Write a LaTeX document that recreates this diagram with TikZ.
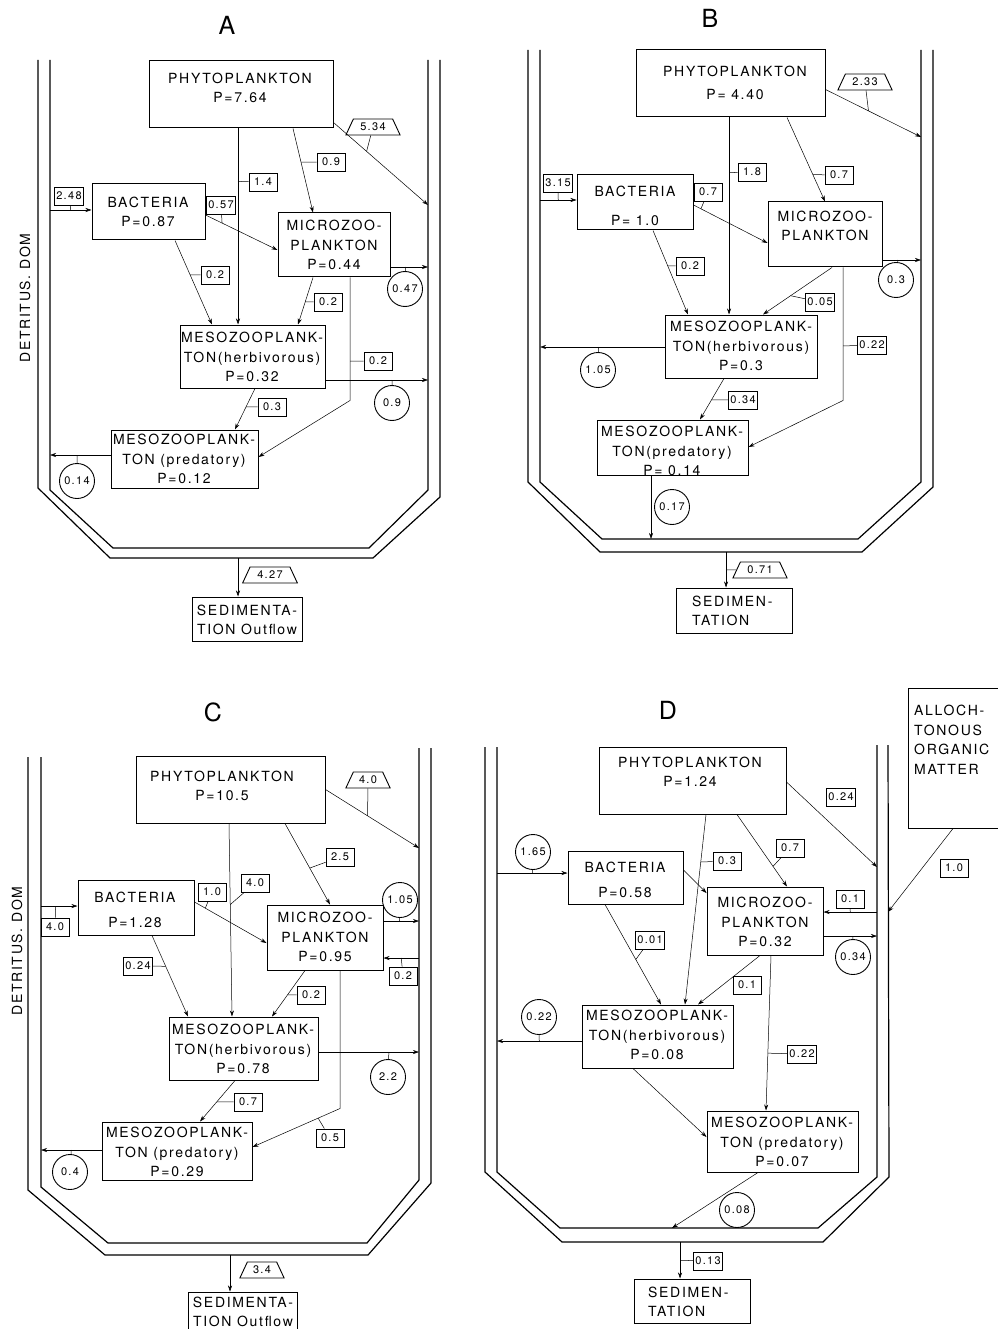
\documentclass[tikz,border=0pt]{standalone}
\usepackage{fontspec}
\setmainfont{TeX Gyre Heros}[LetterSpace=12]
\usetikzlibrary{arrows.meta,shapes.geometric,fit}

\tikzset{
  wall/.style={line width=1.2pt},
  box/.style={draw, line width=1pt, inner sep=0pt},
  txt/.style={align=center, inner sep=0pt, font=\fontsize{14}{19.5}\selectfont},
  flow/.style={line width=0.5pt, -{Stealth[length=6pt,width=4pt]}},
  tickline/.style={line width=0.5pt},
  val/.style={draw, line width=0.9pt, inner sep=2pt, minimum height=18pt, minimum width=28pt, font=\fontsize{11}{11}\selectfont},
  outv/.style={draw, trapezium, trapezium left angle=65, trapezium right angle=65, line width=0.9pt, inner sep=2pt, minimum height=16pt, font=\fontsize{11}{11}\selectfont},
  resp/.style={draw, circle, line width=0.9pt, minimum size=35pt, inner sep=0pt, font=\fontsize{11}{11}\selectfont},
  panel/.style={font=\fontsize{25}{25}\selectfont}
}

\begin{document}
\begin{tikzpicture}[x=1pt,y=-1pt]
\useasboundingbox (0,0) rectangle (997,1329);

%%%%% panel A
\node[panel] (atitle) at (227,25) {A};
\node[txt, rotate=90] (adet) at (25,298) {DETRITUS. DOM};
%walls
\draw[wall] (38,60) -- (38,488) -- (110,558) -- (373,558) -- (440,497) -- (440,60);
\draw[wall] (50,60) -- (50,490) -- (113,548) -- (369,548) -- (428,490) -- (428,60);
\coordinate (aL) at (50,0);
\coordinate (aR) at (428,0);
\coordinate (aB) at (238,558);
%boxes
\node[box, fit={(149,61) (333,128)}] (aphy) {};
\node[txt] (aphyt) at (240,88) {PHYTOPLANKTON\\P=7.64};
\node[box, fit={(92,184) (205,240)}] (abac) {};
\node[txt] (abact) at (148,212) {BACTERIA\\P=0.87};
\node[box, fit={(278,213) (390,277)}] (amic) {};
\node[txt] (amict) at (334,245) {MICROZOO-\\PLANKTON\\P=0.44};
\node[box, fit={(180,325) (325,388)}] (amh) {};
\node[txt] (amht) at (252,357) {MESOZOOPLANK-\\TON(herbivorous)\\P=0.32};
\node[box, fit={(111,430) (258,488)}] (amp) {};
\node[txt] (ampt) at (184,459) {MESOZOOPLANK-\\TON (predatory)\\P=0.12};
\node[box, fit={(192,597) (302,641)}] (ased) {};
\node[txt] (asedt) at (247,620) {SEDIMENTA-\\TION Outflow};
%flows
\draw[flow] (aphy.south -| 238,0) -- (amh.north -| 238,0) coordinate[pos=0.27] (a1);
\node[val] (av1) at (263,182) {1.4};
\draw[tickline] (av1) -- (a1);
\draw[flow] (aphy.south -| 293,0) -- (amic.north -| 313,0) coordinate[pos=0.4] (a2);
\node[val] (av2) at (331,162) {0.9};
\draw[tickline] (av2) -- (a2);
\draw[flow] ([yshift=6pt]aphy.south east) -- (aR |- 0,205) coordinate[pos=0.35] (a3);
\node[outv] (av3) at (373,127) {5.34};
\draw[tickline] (av3) -- (a3);
\draw[flow] (aL |- 0,210) -- (abac.west |- 0,210) coordinate[pos=0.5] (a4);
\node[val] (av4) at (69,196) {2.48};
\draw[tickline] (av4) -- (a4);
\draw[flow] (abac.east |- 0,215) -- (amic.west |- 0,250) coordinate[pos=0.23] (a5);
\node[val] (av5) at (221,205) {0.57};
\draw[tickline] (av5) -- (a5);
\draw[flow] (abac.south -| 175,0) -- (amh.north -| 212,0) coordinate[pos=0.41] (a6);
\node[val] (av6) at (215,275) {0.2};
\draw[tickline] (av6) -- (a6);
\draw[flow] (amic.south -| 313,0) -- (amh.north -| 298,0) coordinate[pos=0.52] (a7);
\node[val] (av7) at (328,302) {0.2};
\draw[tickline] (av7) -- (a7);
\draw[flow] (amic.east |- 0,267) -- (aR |- 0,267) coordinate[pos=0.4] (a8);
\node[resp] (av8) at (405,289) {0.47};
\draw[tickline] (av8) -- (a8);
\draw[flow] (amic.south -| 350,0) -- ++(0,123) coordinate[pos=0.68] (a9) -- (amp.east |- 0,457);
\node[val] (av9) at (378,361) {0.2};
\draw[tickline] (av9) -- (a9);
\draw[flow] (amh.east |- 0,380) -- (aR |- 0,380) coordinate[pos=0.65] (a10);
\node[resp] (av10) at (392,403) {0.9};
\draw[tickline] (av10) -- (a10);
\draw[flow] (amh.south -| 255,0) -- (amp.north -| 235,0) coordinate[pos=0.45] (a11);
\node[val] (av11) at (272,407) {0.3};
\draw[tickline] (av11) -- (a11);
\draw[flow] (amp.west |- 0,455) -- (aL |- 0,455) coordinate[pos=0.55] (a12);
\node[resp] (av12) at (77,481) {0.14};
\draw[tickline] (av12) -- (a12);
\draw[flow] (aB) -- (ased.north -| aB);
\node[outv] (av13) at (270,575) {4.27};

%%%%% panel B
\node[panel] (btitle) at (710,18) {B};
%walls
\draw[wall] (528,50) -- (528,482) -- (600,552) -- (862,552) -- (933,487) -- (933,50);
\draw[wall] (540,50) -- (540,482) -- (602,539) -- (858,539) -- (921,482) -- (921,50);
\coordinate (bL) at (540,0);
\coordinate (bR) at (921,0);
\coordinate (bBi) at (651,539);
\coordinate (bBo) at (726,552);
%boxes
\node[box, fit={(636,50) (825,117)}] (bphy) {};
\node[txt] (bphyt) at (735,83) {PHYTOPLANKTON\\[4pt]P= 4.40};
\node[box, fit={(577,175) (693,230)}] (bbac) {};
\node[txt] (bbact) at (635,206) {BACTERIA\\[10pt]P= 1.0};
\node[box, fit={(768,202) (882,267)}] (bmic) {};
\node[txt] (bmict) at (825,226) {MICROZOO-\\PLANKTON};
\node[box, fit={(665,315) (817,378)}] (bmh) {};
\node[txt] (bmht) at (741,346) {MESOZOOPLANK-\\TON(herbivorous)\\P=0.3};
\node[box, fit={(597,420) (748,475)}] (bmp) {};
\node[txt] (bmpt) at (672,451) {MESOZOOPLANK-\\TON(predatory)\\P= 0.14};
\node[box, fit={(676,588) (792,633)}] (bsed) {};
\node[txt, align=left, anchor=west] (bsedt) at (692,611) {SEDIMEN-\\TATION};
%flows
\draw[flow] (bphy.south -| 729,0) -- (bmh.north -| 729,0) coordinate[pos=0.28] (b1);
\node[val] (bv1) at (752,172) {1.8};
\draw[tickline] (bv1) -- (b1);
\draw[flow] (bphy.south -| 787,0) -- (bmic.north -| 825,0) coordinate[pos=0.68] (b2);
\node[val] (bv2) at (839,175) {0.7};
\draw[tickline] (bv2) -- (b2);
\draw[flow] ([yshift=-6pt]bphy.east) -- (bR |- 0,137) coordinate[pos=0.45] (b3);
\node[outv] (bv3) at (865,82) {2.33};
\draw[tickline] (bv3) -- (b3);
\draw[flow] (bL |- 0,200) -- (bbac.west |- 0,200) coordinate[pos=0.5] (b4);
\node[val] (bv4) at (558,183) {3.15};
\draw[tickline] (bv4) -- (b4);
\draw[flow] (bbac.east |- 0,205) -- (bmic.west |- 0,243) coordinate[pos=0.1] (b5);
\node[val] (bv5) at (708,192) {0.7};
\draw[tickline] (bv5) -- (b5);
\draw[flow] (bbac.south -| 653,0) -- (bmh.north -| 688,0) coordinate[pos=0.42] (b6);
\node[val] (bv6) at (690,266) {0.2};
\draw[tickline] (bv6) -- (b6);
\draw[flow] (bmic.south -| 832,0) -- (bmh.north -| 763,0) coordinate[pos=0.6] (b7);
\node[val] (bv7) at (820,302) {0.05};
\draw[tickline] (bv7) -- (b7);
\draw[flow] (bmic.east |- 0,260) -- (bR |- 0,260) coordinate[pos=0.4] (b8);
\node[resp] (bv8) at (896,280) {0.3};
\draw[tickline] (bv8) -- (b8);
\draw[flow] (bmic.south -| 843,0) -- ++(0,133) coordinate[pos=0.59] (b9) -- (bmp.east |- 0,447);
\node[val] (bv9) at (872,345) {0.22};
\draw[tickline] (bv9) -- (b9);
\draw[flow] (bmh.west |- 0,347) -- (bL |- 0,347) coordinate[pos=0.53] (b10);
\node[resp] (bv10) at (598,370) {1.05};
\draw[tickline] (bv10) -- (b10);
\draw[flow] (bmh.south -| 724,0) -- (bmp.north -| 700,0) coordinate[pos=0.52] (b11);
\node[val] (bv11) at (743,400) {0.34};
\draw[tickline] (bv11) -- (b11);
\draw[flow] (bmp.south -| bBi) -- (bBi);
\node[resp] (bv12) at (672,507) {0.17};
\draw[flow] (bBo) -- (bsed.north -| bBo) coordinate[pos=0.5] (b13);
\node[outv] (bv13) at (760,570) {0.71};
\draw[tickline] (bv13) -- (b13);

%%%%% panel C
\node[panel] (ctitle) at (213,712) {C};
\node[txt, rotate=90] (cdet) at (17,951) {DETRITUS. DOM};
%walls
\draw[wall] (28,757) -- (28,1190) -- (105,1255) -- (368,1255) -- (431,1183) -- (431,748);
\draw[wall] (41,757) -- (41,1187) -- (108,1243) -- (367,1243) -- (419,1180) -- (419,748);
\coordinate (cL) at (41,0);
\coordinate (cR) at (419,0);
\coordinate (cB) at (230,1255);
%boxes
\node[box, fit={(136,756) (325,823)}] (cphy) {};
\node[txt] (cphyt) at (222,786) {PHYTOPLANKTON\\P=10.5};
\node[box, fit={(78,880) (194,935)}] (cbac) {};
\node[txt] (cbact) at (135,910) {BACTERIA\\[6pt]P=1.28};
\node[box, fit={(267,905) (383,970)}] (cmic) {};
\node[txt] (cmict) at (325,937) {MICROZOO-\\PLANKTON\\P=0.95};
\node[box, fit={(169,1017) (318,1080)}] (cmh) {};
\node[txt] (cmht) at (243,1049) {MESOZOOPLANK-\\TON(herbivorous)\\P=0.78};
\node[box, fit={(102,1122) (252,1180)}] (cmp) {};
\node[txt] (cmpt) at (177,1152) {MESOZOOPLANK-\\TON (predatory)\\P=0.29};
\node[box, fit={(188,1292) (297,1335)}] (csed) {};
\node[txt] (csedt) at (243,1312) {SEDIMENTA-\\TION Outflow};
%flows
\draw[flow] (cphy.south -| 229,0) -- (cmh.north -| 232,0) coordinate[pos=0.42] (c1);
\node[val] (cv1) at (255,883) {4.0};
\draw[tickline] (cv1) -- (c1);
\draw[flow] (cphy.south -| 285,0) -- (cmic.north -| 330,0) coordinate[pos=0.55] (c2);
\node[val] (cv2) at (340,857) {2.5};
\draw[tickline] (cv2) -- (c2);
\draw[flow] (cphy.east) -- (cR |- 0,848) coordinate[pos=0.45] (c3);
\node[outv] (cv3) at (368,780) {4.0};
\draw[tickline] (cv3) -- (c3);
\draw[flow] (cL |- 0,906) -- (cbac.west |- 0,906) coordinate[pos=0.4] (c4);
\node[val] (cv4) at (55,927) {4.0};
\draw[tickline] (cv4) -- (c4);
\draw[flow] (cbac.east |- 0,902) -- (cmic.west |- 0,943) coordinate[pos=0.15] (c5);
\node[val] (cv5) at (212,892) {1.0};
\draw[tickline] (cv5) -- (c5);
\draw[flow] (cbac.south -| 152,0) -- (cmh.north -| 188,0) coordinate[pos=0.38] (c6);
\node[val] (cv6) at (138,966) {0.24};
\draw[tickline] (cv6) -- (c6);
\draw[flow] (cmic.south -| 305,0) -- (cmh.north -| 272,0) coordinate[pos=0.53] (c7);
\node[val] (cv7) at (311,995) {0.2};
\draw[tickline] (cv7) -- (c7);
\draw[flow] (cmic.east |- 0,921) -- (cR |- 0,921) coordinate[pos=0.45] (c8);
\node[resp] (cv8) at (400,900) {1.05};
\draw[tickline] (cv8) -- (c8);
\draw[flow] (cR |- 0,958) -- (cmic.east |- 0,958) coordinate[pos=0.5] (c9);
\node[val] (cv9) at (403,976) {0.2};
\draw[tickline] (cv9) -- (c9);
\draw[flow] (cmic.south -| 340,0) -- ++(0,138) -- (cmp.east |- 0,1147) coordinate[pos=0.25] (c10);
\node[val] (cv10) at (330,1138) {0.5};
\draw[tickline] (cv10) -- (c10);
\draw[flow] (cmh.east |- 0,1052) -- (cR |- 0,1052) coordinate[pos=0.7] (c11);
\node[resp] (cv11) at (388,1077) {2.2};
\draw[tickline] (cv11) -- (c11);
\draw[flow] (cmh.south -| 235,0) -- (cmp.north -| 200,0) coordinate[pos=0.52] (c12);
\node[val] (cv12) at (248,1102) {0.7};
\draw[tickline] (cv12) -- (c12);
\draw[flow] (cmp.west |- 0,1150) -- (cL |- 0,1150) coordinate[pos=0.5] (c13);
\node[resp] (cv13) at (70,1172) {0.4};
\draw[tickline] (cv13) -- (c13);
\draw[flow] (cB) -- (csed.north -| cB);
\node[outv] (cv14) at (262,1270) {3.4};

%%%%% panel D
\node[panel] (dtitle) at (668,710) {D};
%walls
\draw[wall] (485,747) -- (485,1172) -- (562,1242) -- (823,1242) -- (889,1177) -- (888,745);
\draw[wall] (497,747) -- (497,1172) -- (560,1228) -- (818,1228) -- (877,1177) -- (877,745);
\coordinate (dL) at (497,0);
\coordinate (dR) at (877,0);
\coordinate (dRo) at (888,0);
\coordinate (dBi) at (672,1228);
\coordinate (dBo) at (680,1242);
%boxes
\node[box, fit={(908,688) (1002,828)}] (dall) {};
\node[txt, align=left, anchor=north west] (dallt) at (914,705) {ALLOCH-\\TONOUS\\ORGANIC\\MATTER};
\node[box, fit={(599,747) (786,814)}] (dphy) {};
\node[txt] (dphyt) at (690,772) {PHYTOPLANKTON\\P=1.24};
\node[box, fit={(568,851) (683,904)}] (dbac) {};
\node[txt] (dbact) at (625,880) {BACTERIA\\[6pt]P=0.58};
\node[box, fit={(707,887) (823,955)}] (dmic) {};
\node[txt] (dmict) at (765,922) {MICROZOO-\\PLANKTON\\P=0.32};
\node[box, fit={(582,1005) (733,1068)}] (dmh) {};
\node[txt] (dmht) at (657,1035) {MESOZOOPLANK-\\TON(herbivorous)\\P=0.08};
\node[box, fit={(707,1111) (858,1172)}] (dmp) {};
\node[txt] (dmpt) at (782,1142) {MESOZOOPLANK-\\TON (predatory)\\P=0.07};
\node[box, fit={(634,1279) (750,1323)}] (dsed) {};
\node[txt, align=left, anchor=west] (dsedt) at (648,1302) {SEDIMEN-\\TATION};
%flows
\draw[flow] (dphy.south -| 706,0) -- (dmh.north -| 685,0) coordinate[pos=0.25] (d1);
\node[val] (dv1) at (727,861) {0.3};
\draw[tickline] (dv1) -- (d1);
\draw[flow] (dphy.south -| 737,0) -- (dmic.north -| 787,0) coordinate[pos=0.72] (d2);
\node[val] (dv2) at (790,848) {0.7};
\draw[tickline] (dv2) -- (d2);
\draw[flow] (dphy.east |- 0,782) -- (dR |- 0,867);
\node[val] (dv3) at (841,797) {0.24};
\draw[flow] (dall.south -| 953,0) -- (dRo |- 0,912);
\node[val] (dv4) at (954,868) {1.0};
\draw[flow] (dL |- 0,873) -- (dbac.west |- 0,873) coordinate[pos=0.5] (d5);
\node[resp] (dv5) at (533,852) {1.65};
\draw[tickline] (dv5) -- (d5);
\draw[flow] (dbac.east |- 0,870) -- (dmic.west |- 0,893);
\draw[flow] (dR |- 0,912) -- (dmic.east |- 0,912) coordinate[pos=0.5] (d7);
\node[val] (dv7) at (850,899) {0.1};
\draw[tickline] (dv7) -- (d7);
\draw[flow] (dmic.east |- 0,936) -- (dR |- 0,936) coordinate[pos=0.55] (d8);
\node[resp] (dv8) at (853,957) {0.34};
\draw[tickline] (dv8) -- (d8);
\draw[flow] (dbac.south -| 605,0) -- (dmh.north -| 661,0) coordinate[pos=0.55] (d9);
\node[val] (dv9) at (650,940) {0.01};
\draw[tickline] (dv9) -- (d9);
\draw[flow] (dmic.south -| 760,0) -- (dmh.north -| 698,0);
\node[val] (dv10) at (747,985) {0.1};
\draw[flow] (dmic.south -| 771,0) -- (dmp.north -| 766,0) coordinate[pos=0.63] (d11);
\node[val] (dv11) at (802,1054) {0.22};
\draw[tickline] (dv11) -- (d11);
\draw[flow] (dmh.west |- 0,1041) -- (dL |- 0,1041) coordinate[pos=0.5] (d12);
\node[resp] (dv12) at (539,1017) {0.22};
\draw[tickline] (dv12) -- (d12);
\draw[flow] (dmh.south -| 633,0) -- (dmp.west |- 0,1137);
\draw[flow] (dmp.south -| 758,0) -- (dBi);
\node[resp] (dv14) at (737,1210) {0.08};
\draw[flow] (dBo) -- (dsed.north -| dBo) coordinate[pos=0.5] (d15);
\node[val] (dv15) at (708,1261) {0.13};
\draw[tickline] (dv15) -- (d15);
\end{tikzpicture}
\end{document}
